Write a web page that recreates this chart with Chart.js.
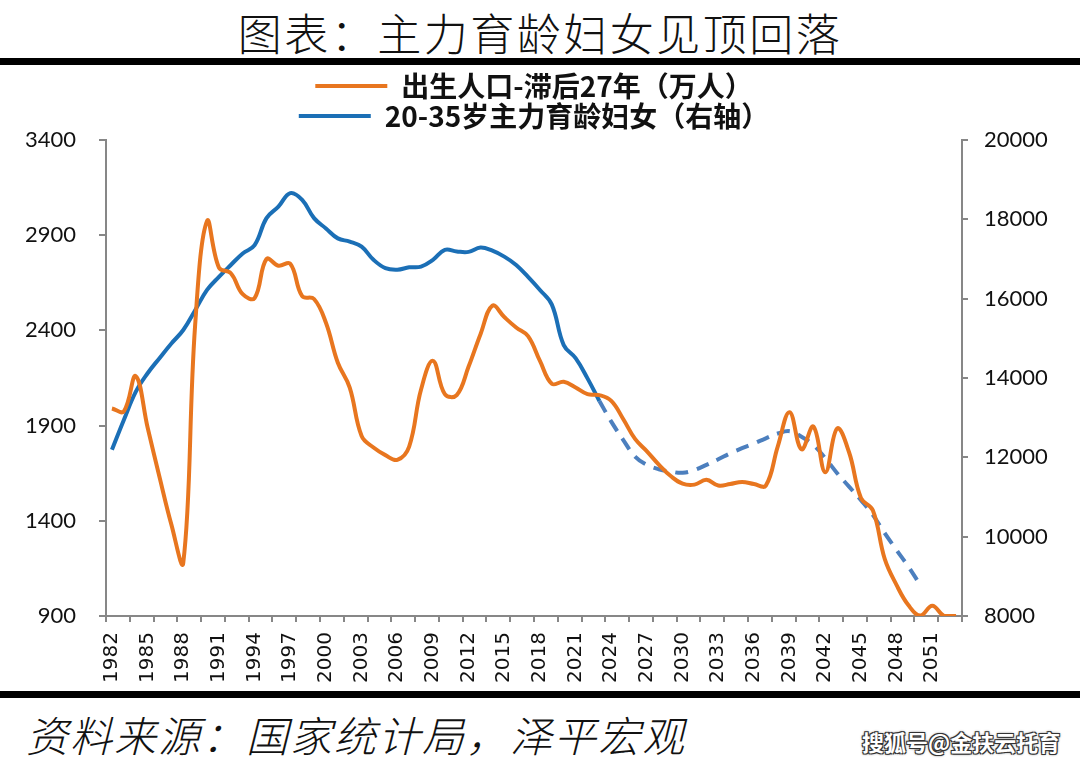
<!DOCTYPE html>
<html>
<head>
<meta charset="utf-8">
<script src="https://cdn.jsdelivr.net/npm/chart.js@4.4.1/dist/chart.umd.min.js"></script>
<style>
  html, body { margin: 0; padding: 0; background: #fff; }
  #wrap { position: relative; width: 1080px; height: 759px; overflow: hidden; background: #fff; }
  #title { position: absolute; left: 0; top: 6px; width: 1080px; text-align: center;
           font-family: "Noto Sans CJK SC"; font-weight: 300; font-size: 44px; letter-spacing: 2.5px;
           line-height: 52px; color: #111; }
  .rule { position: absolute; left: 0; width: 1080px; height: 7px; background: #000; }
  #cv { position: absolute; left: 0; top: 66px; }
  #src { position: absolute; left: 26px; top: 707px; font-family: "Noto Sans CJK SC"; font-weight: 300;
         font-style: italic; font-size: 42px; letter-spacing: 2px; line-height: 54px; color: #111; }
  #wm { position: absolute; left: 862px; top: 726px; font-family: "Noto Sans CJK SC"; font-weight: bold;
        font-size: 22px; line-height: 30px; color: #fff;
        text-shadow: 1px 1px 0 #333, -1px -1px 0 #333, 1px -1px 0 #333, -1px 1px 0 #333, 0 0 3px #000; }
</style>
</head>
<body>
<div id="wrap">
  <div id="title">图表：主力育龄妇女见顶回落</div>
  <div class="rule" style="top:58px"></div>
  <canvas id="cv" width="1080" height="626"></canvas>
  <div class="rule" style="top:691px"></div>
  <div id="src">资料来源：国家统计局，泽平宏观</div>
  <div id="wm">搜狐号@金扶云托育</div>
</div>
<script>
// ---- data ----
const years = ['1982','1983','1984','1985','1986','1987','1988','1989','1990','1991',
  '1992','1993','1994','1995','1996','1997','1998','1999','2000','2001',
  '2002','2003','2004','2005','2006','2007','2008','2009','2010','2011',
  '2012','2013','2014','2015','2016','2017','2018','2019','2020','2021',
  '2022','2023','2024','2025','2026','2027','2028','2029','2030','2031',
  '2032','2033','2034','2035','2036','2037','2038','2039','2040','2041',
  '2042','2043','2044','2045','2046','2047','2048','2049','2050','2051',
  '2052','2053'];

// 出生人口-滞后27年（万人）, 1982..2053
const birthsLagged = [1990,1975,2160,1890,1630,1380,1180,2430,2975,2730,
  2700,2590,2570,2775,2740,2750,2580,2565,2440,2230,
  2100,1845,1785,1745,1720,1790,2090,2240,2065,2060,
  2210,2380,2530,2470,2415,2370,2240,2120,2130,2100,
  2065,2060,2030,1935,1830,1765,1695,1635,1595,1590,
  1615,1585,1593,1604,1593,1585,1790,1970,1775,1895,
  1655,1885,1760,1520,1455,1200,1062,956,902,954,
  900,900];

// 20-35岁主力育龄妇女（右轴）, actual 1982..2023
const womenActual = [12190,12940,13650,14120,14500,14870,15210,15710,16220,16550,
  16850,17140,17350,18030,18320,18660,18490,18030,17770,17520,
  17440,17310,16980,16770,16730,16790,16810,16980,17230,17190,
  17180,17290,17210,17060,16850,16550,16220,15850,14830,14500,
  13990,13420];

// projection 2023..2050 (dashed)
const projStartYear = '2023';
const womenProjected = [13420,12900,12440,12020,11810,11700,11640,11610,11680,11810,
  11950,12100,12230,12350,12480,12600,12660,12520,12310,11980,
  11600,11260,10920,10550,10090,9660,9240,8780];

const leftTicks = [900,1400,1900,2400,2900,3400];
const rightTicks = [8000,10000,12000,14000,16000,18000,20000];
const labelNames = ['出生人口-滞后27年（万人）','20-35岁主力育龄妇女（右轴）','预测'];

// ---- build ----
const projStart = years.indexOf(projStartYear);
const solidData = years.map((y, i) => i < womenActual.length ? womenActual[i] : null);
const dashData = years.map((y, i) => (i >= projStart && i - projStart < womenProjected.length) ? womenProjected[i - projStart] : null);

const ORANGE = '#E8761F';
const BLUE = '#1B6FB6';
const BLUE_DASH = '#4C7FBE';
const AXIS = '#878787';

new Chart(document.getElementById('cv'), {
  type: 'line',
  data: {
    labels: years,
    datasets: [
      { label: labelNames[0], data: birthsLagged, yAxisID: 'y', borderColor: ORANGE, backgroundColor: ORANGE,
        borderWidth: 4, pointRadius: 0, tension: 0.4 },
      { label: labelNames[1], data: solidData, yAxisID: 'y1', borderColor: BLUE, backgroundColor: BLUE,
        borderWidth: 4, pointRadius: 0, tension: 0.4 },
      { label: labelNames[2], data: dashData, yAxisID: 'y1', borderColor: BLUE_DASH, backgroundColor: BLUE_DASH,
        borderWidth: 4, borderDash: [13, 9], pointRadius: 0, tension: 0.4 }
    ]
  },
  options: {
    responsive: false,
    animation: false,
    layout: { padding: { top: 4, left: 0, right: 0, bottom: 0 } },
    plugins: {
      tooltip: { enabled: false },
      legend: {
        position: 'top',
        fullSize: false,
        align: 'center',
        labels: {
          boxWidth: 72,
          boxHeight: 4,
          padding: 2,
          color: '#111',
          font: { family: '"Noto Sans CJK SC"', size: 28, weight: 'bold' },
          filter: (item) => item.datasetIndex !== 2,
          generateLabels: (chart) => Chart.defaults.plugins.legend.labels.generateLabels(chart)
            .map(l => Object.assign({}, l, { lineWidth: 0, lineDash: [], fillStyle: l.strokeStyle }))
        }
      }
    },
    scales: {
      x: {
        type: 'category',
        offset: true,
        afterFit: (s) => { s.height = 76; },
        grid: {
          offset: true,
          drawOnChartArea: false,
          drawTicks: true,
          tickLength: 6,
          lineWidth: 2,
          color: (c) => (c.index === undefined || c.index % 2 === 0) ? AXIS : 'rgba(0,0,0,0)'
        },
        border: { display: true, color: AXIS, width: 2 },
        ticks: {
          autoSkip: false,
          maxRotation: 90,
          minRotation: 90,
          padding: 10,
          color: '#111',
          font: { family: '"DejaVu Sans"', size: 20 },
          callback: (v, i) => i % 3 === 0 ? years[i] : ''
        }
      },
      y: {
        position: 'left',
        min: leftTicks[0],
        max: leftTicks[leftTicks.length - 1],
        afterFit: (s) => { s.width = 106; },
        afterBuildTicks: (s) => { s.ticks = leftTicks.map(v => ({ value: v })); },
        grid: { drawOnChartArea: false, drawTicks: true, tickLength: 7, lineWidth: 2, color: AXIS },
        border: { display: true, color: AXIS, width: 2 },
        ticks: { padding: 23, color: '#111', font: { family: 'Lato', size: 22 }, callback: (v) => String(v) }
      },
      y1: {
        position: 'right',
        min: rightTicks[0],
        max: rightTicks[rightTicks.length - 1],
        afterFit: (s) => { s.width = 118; },
        afterBuildTicks: (s) => { s.ticks = rightTicks.map(v => ({ value: v })); },
        grid: { drawOnChartArea: false, drawTicks: true, tickLength: 6, lineWidth: 2, color: AXIS },
        border: { display: true, color: AXIS, width: 2 },
        ticks: { padding: 16, color: '#111', font: { family: 'Lato', size: 22 }, callback: (v) => String(v) }
      }
    }
  }
});
</script>
</body>
</html>
